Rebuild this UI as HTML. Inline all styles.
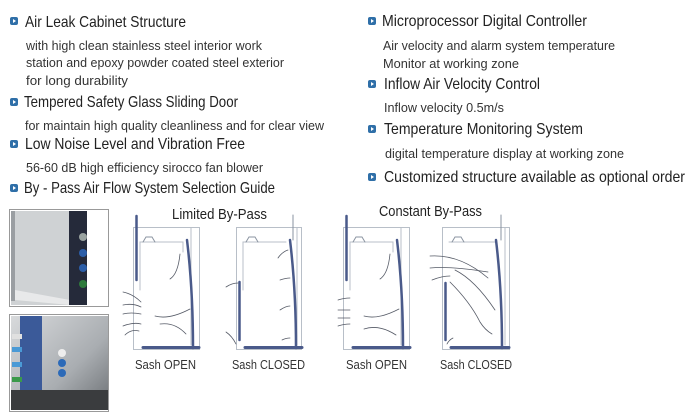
<!DOCTYPE html>
<html><head><meta charset="utf-8"><style>
html,body{margin:0;padding:0;background:#fff;width:698px;height:420px;overflow:hidden}
svg{display:block}
text{font-family:"Liberation Sans",sans-serif;fill:#222}
.h{font-size:16px}
.b{font-size:13px;fill:#333}
</style></head><body>
<svg width="698" height="420" viewBox="0 0 698 420" xmlns="http://www.w3.org/2000/svg">
<defs>
<g id="bul"><rect x="0" y="0" width="8" height="8" rx="2" fill="#2f6fa8"/><path d="M3 2 L6 4 L3 6Z" fill="#fff"/></g>
<linearGradient id="steel" x1="0" y1="0" x2="1" y2="1"><stop offset="0" stop-color="#d8dadc"/><stop offset=".6" stop-color="#a9adb1"/><stop offset="1" stop-color="#6b6f73"/></linearGradient>
</defs>
<use href="#bul" x="10" y="17"/>
<text class="h" x="25" y="27" textLength="161" lengthAdjust="spacingAndGlyphs">Air Leak Cabinet Structure</text>
<text class="b" x="26" y="50" textLength="236" lengthAdjust="spacingAndGlyphs">with high clean stainless steel interior work</text>
<text class="b" x="26" y="67" textLength="258" lengthAdjust="spacingAndGlyphs">station and epoxy powder coated steel exterior</text>
<text class="b" x="26" y="85" textLength="102" lengthAdjust="spacingAndGlyphs">for  long durability</text>
<use href="#bul" x="10" y="98"/>
<text class="h" x="24" y="107" textLength="214" lengthAdjust="spacingAndGlyphs">Tempered Safety Glass Sliding Door</text>
<text class="b" x="25" y="130" textLength="299" lengthAdjust="spacingAndGlyphs">for maintain high quality cleanliness and for clear view</text>
<use href="#bul" x="10" y="140"/>
<text class="h" x="25" y="149" textLength="220" lengthAdjust="spacingAndGlyphs">Low Noise Level and Vibration Free</text>
<text class="b" x="26" y="172" textLength="237" lengthAdjust="spacingAndGlyphs">56-60 dB high efficiency sirocco fan blower</text>
<use href="#bul" x="10" y="184"/>
<text class="h" x="24" y="193" textLength="251" lengthAdjust="spacingAndGlyphs">By - Pass Air Flow System Selection Guide</text>
<use href="#bul" x="368" y="17"/>
<text class="h" x="382" y="26" textLength="205" lengthAdjust="spacingAndGlyphs">Microprocessor Digital Controller</text>
<text class="b" x="383" y="50" textLength="232" lengthAdjust="spacingAndGlyphs">Air velocity and alarm system temperature</text>
<text class="b" x="383" y="68" textLength="136" lengthAdjust="spacingAndGlyphs">Monitor at working zone</text>
<use href="#bul" x="368" y="80"/>
<text class="h" x="384" y="89" textLength="156" lengthAdjust="spacingAndGlyphs">Inflow Air Velocity Control</text>
<text class="b" x="384" y="112" textLength="120" lengthAdjust="spacingAndGlyphs">Inflow velocity 0.5m/s</text>
<use href="#bul" x="368" y="125"/>
<text class="h" x="384" y="134" textLength="199" lengthAdjust="spacingAndGlyphs">Temperature Monitoring System</text>
<text class="b" x="385" y="158" textLength="239" lengthAdjust="spacingAndGlyphs">digital temperature display at working zone</text>
<use href="#bul" x="368" y="173"/>
<text class="h" x="384" y="182" textLength="301" lengthAdjust="spacingAndGlyphs">Customized structure available as optional order</text>

<rect x="9.5" y="209.5" width="99" height="97" fill="#fff" stroke="#999"/>
<rect x="11" y="211" width="60" height="94" fill="#cfd2d4"/>
<rect x="11" y="211" width="4" height="90" fill="#9a9ea2"/>
<path d="M15 290 L70 300 L70 305 L15 300Z" fill="#e8e9ea"/>
<rect x="69" y="211" width="18" height="94" fill="#252a3a"/>
<circle cx="83" cy="237" r="4" fill="#9aa3a0"/><circle cx="83" cy="253" r="4" fill="#2c5ea8"/><circle cx="83" cy="268" r="4" fill="#2c5ea8"/><circle cx="83" cy="284" r="4" fill="#2e7a3c"/>
<rect x="9.5" y="314.5" width="99" height="97" fill="#fff" stroke="#999"/>
<rect x="11" y="316" width="97" height="94" fill="url(#steel)"/>
<rect x="20" y="316" width="22" height="94" fill="#3b5a99"/>
<rect x="11" y="390" width="97" height="20" fill="#3a3c3e"/>
<rect x="12" y="334" width="10" height="5" fill="#e0e0e0"/><rect x="12" y="347" width="10" height="5" fill="#4a9ad6"/><rect x="12" y="362" width="10" height="5" fill="#4a9ad6"/><rect x="12" y="377" width="10" height="5" fill="#3a9a4a"/>
<circle cx="62" cy="353" r="4" fill="#eee"/><circle cx="62" cy="363" r="4" fill="#2c6ab8"/><circle cx="62" cy="373" r="4" fill="#2c6ab8"/>

<text class="h" x="172" y="219" textLength="95" lengthAdjust="spacingAndGlyphs" style="font-size:15px">Limited By-Pass</text>
<text class="h" x="379" y="216" textLength="103" lengthAdjust="spacingAndGlyphs" style="font-size:15px">Constant By-Pass</text>
<g fill="none" stroke-linecap="round">
<rect x="133.5" y="227.5" width="66" height="122" stroke="#b8bfc8" stroke-width="1"/>
<line x1="136.5" y1="216" x2="136.5" y2="280" stroke="#4a5a8a" stroke-width="2.5"/>
<path d="M140 290 V242 H183 V252" stroke="#b8bfc8"/>
<path d="M143 242 l3 -5 h6 l3 5" stroke="#8a93a0"/>
<line x1="191" y1="228" x2="191" y2="345" stroke="#b8bfc8"/>
<path d="M187 240 Q193 290 193 348" stroke="#4a5a8a" stroke-width="2.5"/>
<line x1="143" y1="347.5" x2="199" y2="347.5" stroke="#4a5a8a" stroke-width="3"/>
<g stroke="#555a66" stroke-width=".8"><path d="M123 292 q10 2 18 10"/><path d="M123 305 q10 -2 18 2"/><path d="M123 314 q8 -2 18 0"/><path d="M123 326 q10 -4 18 -2"/><path d="M125 335 q6 -6 14 -4"/><path d="M170 279 q8 -5 10 -25"/><path d="M155 316 q14 4 35 -7"/><path d="M160 324 q15 -2 26 10"/></g>
<rect x="236.5" y="227.5" width="65" height="122" stroke="#b8bfc8"/>
<line x1="239.5" y1="282" x2="239.5" y2="340" stroke="#4a5a8a" stroke-width="2.5"/>
<path d="M243 290 V242 H286" stroke="#b8bfc8"/>
<path d="M246 242 l3 -5 h6 l3 5" stroke="#8a93a0"/>
<line x1="293" y1="215" x2="293" y2="240" stroke="#8a93a0"/>
<line x1="297" y1="228" x2="297" y2="345" stroke="#b8bfc8"/>
<path d="M290 240 Q296 290 296 348" stroke="#4a5a8a" stroke-width="2.5"/>
<line x1="245" y1="347.5" x2="302" y2="347.5" stroke="#4a5a8a" stroke-width="3"/>
<g stroke="#555a66" stroke-width=".8"><path d="M226 287 q6 -4 12 -4"/><path d="M226 332 q6 4 10 12"/><path d="M278 258 q4 -6 10 -8"/><path d="M280 280 q6 -2 10 -2"/><path d="M280 310 q6 -4 10 -4"/><path d="M282 340 q4 -2 8 -2"/></g>
<rect x="343.5" y="227.5" width="66" height="122" stroke="#b8bfc8"/>
<line x1="346.5" y1="216" x2="346.5" y2="280" stroke="#4a5a8a" stroke-width="2.5"/>
<path d="M350 290 V242 H393 V252" stroke="#b8bfc8"/>
<path d="M353 242 l3 -5 h6 l3 5" stroke="#8a93a0"/>
<line x1="401" y1="228" x2="401" y2="345" stroke="#b8bfc8"/>
<path d="M397 240 Q403 290 403 348" stroke="#4a5a8a" stroke-width="2.5"/>
<line x1="353" y1="347.5" x2="410" y2="347.5" stroke="#4a5a8a" stroke-width="3"/>
<g stroke="#555a66" stroke-width=".8"><path d="M338 300 q6 -2 12 -2"/><path d="M338 310 q6 0 12 0"/><path d="M338 318 q6 0 12 0"/><path d="M338 326 q6 -2 12 -2"/><path d="M380 279 q8 -5 10 -25"/><path d="M364 316 q14 4 35 -7"/><path d="M364 329 q15 -5 32 6"/></g>
<rect x="442.5" y="227.5" width="67" height="122" stroke="#b8bfc8"/>
<line x1="445.5" y1="283" x2="445.5" y2="340" stroke="#4a5a8a" stroke-width="2.5"/>
<path d="M449 242 H495" stroke="#b8bfc8"/>
<path d="M452 242 l3 -5 h6 l3 5" stroke="#8a93a0"/>
<line x1="501" y1="215" x2="501" y2="240" stroke="#8a93a0"/>
<line x1="505" y1="228" x2="505" y2="345" stroke="#b8bfc8"/>
<path d="M496 240 Q502 290 502 348" stroke="#4a5a8a" stroke-width="2.5"/>
<line x1="451" y1="347.5" x2="509" y2="347.5" stroke="#4a5a8a" stroke-width="3"/>
<g stroke="#555a66" stroke-width=".8"><path d="M430 256 q30 -2 58 22"/><path d="M430 268 q20 -2 58 4"/><path d="M432 280 q10 -4 18 -4"/><path d="M455 270 q20 10 40 40"/><path d="M450 282 q20 20 30 40 q5 8 12 12"/><path d="M447 344 q2 -4 6 -6"/></g>
</g>
<text class="b" x="135" y="369" textLength="61" lengthAdjust="spacingAndGlyphs">Sash OPEN</text>
<text class="b" x="232" y="369" textLength="73" lengthAdjust="spacingAndGlyphs">Sash CLOSED</text>
<text class="b" x="346" y="369" textLength="61" lengthAdjust="spacingAndGlyphs">Sash OPEN</text>
<text class="b" x="440" y="369" textLength="72" lengthAdjust="spacingAndGlyphs">Sash CLOSED</text>
</svg>
</body></html>
